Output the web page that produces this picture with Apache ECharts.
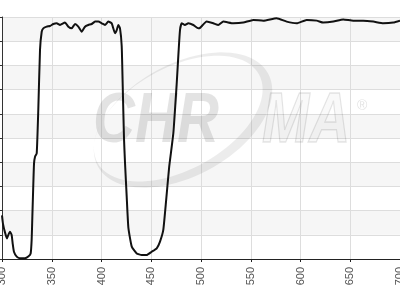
<!DOCTYPE html>
<html>
<head>
<meta charset="utf-8">
<script src="https://cdn.jsdelivr.net/npm/echarts@6/dist/echarts.min.js"></script>
<style>
html,body{margin:0;padding:0;background:#fff;}
#chart{width:400px;height:300px;}
</style>
</head>
<body>
<div id="chart"></div>
<script>
// Wavelength (nm)
var wavelengths = [300,301,303,305,306.3,308,309.7,310.7,312,314.8,318,323,326.4,328.8,329.8,330.5,331.5,332.2,333.2,334.9,336.5,338.2,339.9,341.5,344.9,348.2,351.6,355,358.3,363.3,366.7,370,373.4,376.7,380.1,383.4,386.7,390.1,393.5,396.8,400.2,403.5,406.8,410.2,413.6,415.3,416.9,418.6,420.3,421.3,422.6,423.6,425.3,427,430.4,435.4,440.4,445.4,450.5,455.5,458.8,462.1,465,468,472.2,475.6,477.5,478.9,480.6,483.9,487.2,492.3,497.3,499,505.7,512.4,517.4,522.4,532.5,542.5,552.6,562.6,576,586.1,596.2,606.2,616.3,622.9,633,643,653,663,673.2,683.2,693.3,700];
// Transmission (%)
var transmission = [18,14.5,11,8.5,9.9,11.3,9.9,6.5,3,1,0.3,0.3,1,2.3,7.9,17.5,31.3,39.5,42.3,43.7,62,86.4,93.9,95.3,96,96.3,97.1,97.4,96.7,97.7,96,95.3,97.1,96,93.9,96,96.7,97.1,98.1,98.1,97.4,96.7,98.1,97.4,93.3,94.6,96.7,95.3,88,72,50,40,26,13,5.1,2.3,1.65,1.65,3,4.4,7.2,12,24.4,38,52,72.6,86,94.6,97.4,96.7,97.4,96.7,95.3,95.5,98.1,97.4,96.7,98.1,97.4,97.7,98.8,98.5,99.5,98.1,97.4,98.8,98.5,97.7,98.1,99,98.5,98.5,98.1,97.4,97.7,98.5];
// Axis ticks
var xMin = 300, xMax = 700, xStep = 50;
var yMin = 0, yMax = 100, yStep = 10;

var points = wavelengths.map(function (w, i) { return [w, transmission[i]]; });

// Watermark swoosh outline (decorative crescent, not data)
function crescent() {
  var pts = [], n = 90, i, t;
  for (i = 0; i <= n; i++) { t = i / n * Math.PI * 2; pts.push([97 * Math.cos(t), 56 * Math.sin(t)]); }
  for (i = n; i >= 0; i--) { t = i / n * Math.PI * 2; pts.push([-3.5 + 92 * Math.cos(t), -3.5 + 51 * Math.sin(t)]); }
  return pts;
}

var chart = echarts.init(document.getElementById('chart'), null, {renderer: 'canvas'});
chart.setOption({
  animation: false,
  backgroundColor: '#ffffff',
  grid: {left: 2, right: 0, top: 17, bottom: 41, containLabel: false, outerBoundsMode: 'none'},
  graphic: [
    {
      type: 'polygon', z: 1, silent: true,
      x: 183, y: 120, rotation: 0.5,
      shape: {points: crescent()},
      style: {fill: 'rgba(0,0,0,0.075)', stroke: null}
    },
    {
      type: 'text', z: 1, silent: true, x: 93, y: 88, scaleX: 0.83,
      style: {text: 'CHR', font: 'italic bold 70px "Liberation Sans", Arial, sans-serif', fill: 'rgba(0,0,0,0.11)'}
    },
    {
      type: 'text', z: 1, silent: true, x: 262, y: 88, scaleX: 0.81,
      style: {text: 'MA', font: 'italic bold 70px "Liberation Sans", Arial, sans-serif', fill: 'rgba(0,0,0,0.025)', stroke: 'rgba(0,0,0,0.1)', lineWidth: 1.5}
    },
    {
      type: 'text', z: 1, silent: true, x: 357, y: 99,
      style: {text: '®', font: '14px "Liberation Sans", Arial, sans-serif', fill: 'rgba(0,0,0,0.12)'}
    }
  ],
  xAxis: {
    type: 'value', min: xMin, max: xMax, interval: xStep,
    axisLine: {show: true, lineStyle: {color: '#222', width: 1}},
    axisTick: {show: true, length: 3, lineStyle: {color: '#222'}},
    axisLabel: {rotate: 90, color: '#555', fontSize: 11, fontFamily: '"Liberation Sans", Arial, sans-serif', margin: 8, hideOverlap: false},
    splitLine: {show: true, lineStyle: {color: '#dddddd', width: 1}}
  },
  yAxis: {
    type: 'value', min: yMin, max: yMax, interval: yStep,
    axisLine: {show: true, lineStyle: {color: '#333', width: 1}},
    axisTick: {show: true, length: 2, lineStyle: {color: '#333'}},
    axisLabel: {show: false},
    splitLine: {show: true, lineStyle: {color: '#dddddd', width: 1}},
    splitArea: {show: true, areaStyle: {color: ['#ffffff', '#f6f6f6']}}
  },
  series: [{
    type: 'line', data: points, showSymbol: false, smooth: 0.15,
    lineStyle: {color: '#111', width: 2}, z: 5
  }]
});
</script>
</body>
</html>
